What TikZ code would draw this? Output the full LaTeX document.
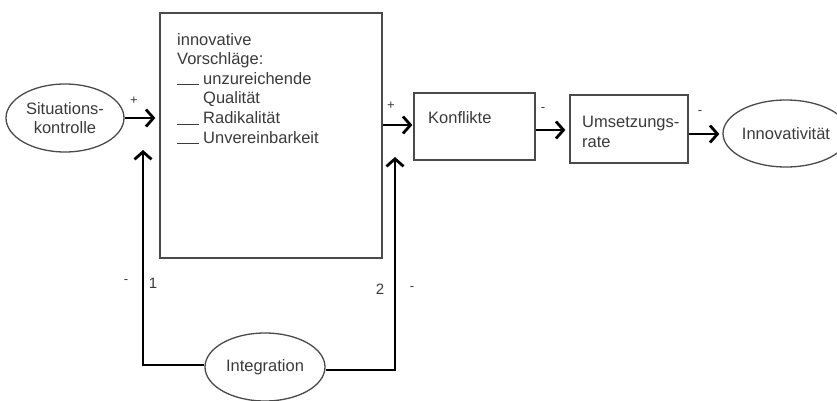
\documentclass[tikz,border=0pt]{standalone}
\usepackage{fontspec}
\setmainfont{Liberation Sans}
\usetikzlibrary{arrows.meta,shapes.geometric}
\definecolor{txt}{HTML}{3A3A3A}
\definecolor{edge}{HTML}{4A4A4A}
\newcommand{\blankline}{\rule[-1pt]{22pt}{1pt}\hspace{4pt}}
\begin{document}
\begin{tikzpicture}[x=1pt,y=-1pt,
  every node/.style={font=\fontsize{16.5}{19.6}\selectfont, text=txt},
  oval/.style={draw=edge, line width=1.3pt, ellipse, inner sep=0pt},
  boxnode/.style={draw=edge, line width=1.3pt, rectangle, inner sep=0pt},
  conn/.style={line width=2.8pt, line join=miter, -{Straight Barb[length=7.5pt,width=17pt]}},
  sign/.style={font=\fontsize{13}{14}\selectfont, inner sep=0pt},
  num/.style={font=\fontsize{15}{16}\selectfont, inner sep=0pt}]
\useasboundingbox (0,0) rectangle (837,401);
\clip (0,0) rectangle (837,401);
% nodes
\node[oval, minimum width=118pt, minimum height=68pt, align=center] (sit) at (65,118) {Situations-\\kontrolle};
\node[boxnode, minimum width=222pt, minimum height=245pt] (vor) at (271,135.5) {};
\node[anchor=north west, align=left, inner sep=0pt] (vortext) at (177,33)
 {innovative\\Vorschläge:\\\blankline unzureichende\\\hspace{26pt}Qualität\\\blankline Radikalität\\\blankline Unvereinbarkeit};
\node[boxnode, minimum width=121pt, minimum height=67pt] (konf) at (474.5,126.5) {};
\node[anchor=west, inner sep=0pt] (konftext) at (428,118) {Konflikte};
\node[boxnode, minimum width=118pt, minimum height=68pt] (ums) at (629,129) {};
\node[anchor=west, align=left, inner sep=0pt] (umstext) at (582,132) {Umsetzungs-\\rate};
\node[oval, minimum width=126pt, minimum height=67pt] (inn) at (786,133.5) {Innovativität};
\node[oval, minimum width=120pt, minimum height=68pt] (integ) at (265,367) {Integration};
% coordinates for arrow tips
\coordinate (c1) at (143,150);
\coordinate (c2) at (395,157);
% connectors
\draw[conn, shorten >=4pt] (sit.east) -- (sit.east -| vor.west);
\draw[conn, shorten >=1pt] ([yshift=10.5pt]vor.east) -- ([yshift=10.5pt]vor.east -| konf.west);
\draw[conn, shorten >=4pt] ([yshift=-3.5pt]konf.east) -- ([yshift=-3.5pt]konf.east -| ums.west);
\draw[conn, shorten >=3pt] ([yshift=-5pt]ums.east) -- ([yshift=-5pt]ums.east -| inn.west);
\draw[conn] ([yshift=2pt]integ.west) -| (c1);
\draw[conn] ([yshift=-3pt]integ.east) -| (c2);
% signs
\node[sign] (p1) at (134,101) {+};
\node[sign] (p2) at (391,106) {+};
\node[sign] (m1) at (543,110) {-};
\node[sign] (m2) at (700,113) {-};
\node[sign] (m3) at (126,282) {-};
\node[num] (n1) at (153,283) {1};
\node[num] (n2) at (380,289) {2};
\node[sign] (m4) at (412,289) {-};
\end{tikzpicture}
\end{document}
